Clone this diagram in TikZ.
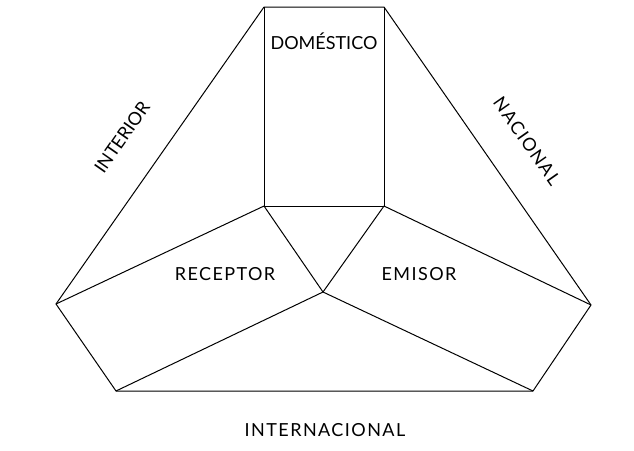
\documentclass[tikz,border=0pt]{standalone}
\usepackage{fontspec}
\setmainfont{Lato}
\usetikzlibrary{calc}

\begin{document}
\begin{tikzpicture}[x=1pt, y=-1pt, line width=1pt, line join=round,
  lbl/.style={inner sep=0pt, font=\fontsize{18}{18}\selectfont},
  wide/.style={font=\fontsize{18}{18}\selectfont\addfontfeature{LetterSpace=8}}]
  \useasboundingbox (0,0) rectangle (634,450);
  \coordinate (1) at (264,7);
  \coordinate (2) at (384,7);
  \coordinate (3) at (591,305);
  \coordinate (4) at (533,391);
  \coordinate (5) at (116,391);
  \coordinate (6) at (56,304);

  \coordinate (7) at (264,206);
  \coordinate (8) at (384,206);
  \coordinate (9) at (323,292);

  \draw (1) -- (2) -- (3) -- (4) -- (5) -- (6) -- (1);
  \draw (1) -- (7) -- (8) -- (2);
  \draw (6) -- (7) -- (9) -- (8) -- (3);
  \draw (5) -- (9) -- (4);

  \node[lbl] (domestico) at (324,41) {DOMÉSTICO};
  \node[lbl, wide] (receptor) at (225,274) {RECEPTOR};
  \node[lbl, wide] (emisor) at (419,274) {EMISOR};
  \node[lbl] (interior) at (122,137) [rotate=55] {INTERIOR};
  \node[lbl, wide] (nacional) at (527,141) [rotate=-55] {NACIONAL};
  \node[lbl, wide] (internacional) at (325,430) {INTERNACIONAL};
\end{tikzpicture}
\end{document}
